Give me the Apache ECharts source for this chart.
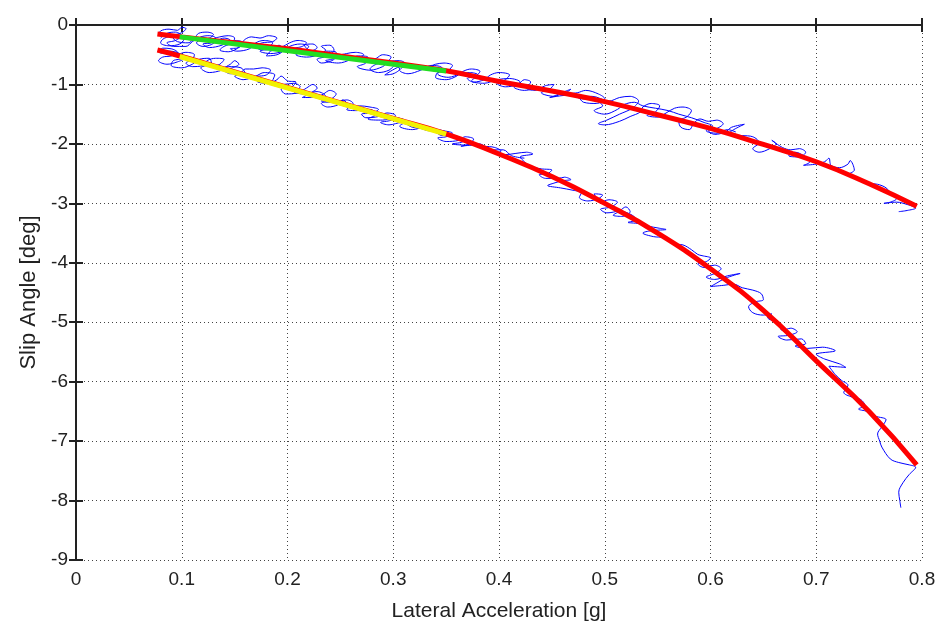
<!DOCTYPE html>
<html><head><meta charset="utf-8">
<script src="https://cdn.jsdelivr.net/npm/echarts@6/dist/echarts.min.js"></script>
<style>html,body{margin:0;padding:0;background:#fff}#c{width:939px;height:631px}</style>
</head><body><div id="c"></div>
<script>
// Tick labels / axes
const xTicks = [0, 0.1, 0.2, 0.3, 0.4, 0.5, 0.6, 0.7, 0.8];
const yTicks = [0, -1, -2, -3, -4, -5, -6, -7, -8, -9];
const xTitle = 'Lateral Acceleration [g]';
const yTitle = 'Slip Angle [deg]';

// Fitted curves (red)
const upperFitX = [0.077, 0.1, 0.15, 0.2, 0.25, 0.3, 0.35, 0.4, 0.45, 0.5, 0.55, 0.6, 0.65, 0.7, 0.75, 0.795];
const upperFitY = [-0.15, -0.20, -0.30, -0.40, -0.52, -0.64, -0.77, -0.95, -1.11, -1.29, -1.51, -1.74, -2.01, -2.30, -2.67, -3.05];
const lowerFitX = [0.077, 0.1, 0.15, 0.2, 0.25, 0.3, 0.35, 0.4, 0.45, 0.5, 0.55, 0.6, 0.65, 0.7, 0.75, 0.795];
const lowerFitY = [-0.42, -0.53, -0.79, -1.05, -1.31, -1.57, -1.83, -2.17, -2.55, -3.0, -3.5, -4.1, -4.8, -5.65, -6.5, -7.4];

// Linear segments (green upper, yellow lower)
const greenX = [0.098, 0.35];
const greenY = [-0.20, -0.775];
const yellowX = [0.098, 0.35];
const yellowY = [-0.53, -1.835];

const upperMeas = [
[0.078,-0.17],[0.080,-0.10],[0.088,-0.07],[0.096,-0.09],[0.100,-0.04],[0.104,-0.06],[0.100,-0.13],[0.090,-0.18],[0.082,-0.24],[0.080,-0.30],[0.088,-0.35],[0.098,-0.32],[0.102,-0.24],[0.098,-0.18],[0.092,-0.22],[0.096,-0.28],[0.106,-0.30],[0.112,-0.22],
[0.116,-0.14],[0.124,-0.12],[0.130,-0.16],[0.126,-0.22],[0.118,-0.24],[0.114,-0.30],[0.120,-0.36],[0.128,-0.33],[0.134,-0.26],[0.140,-0.22],[0.146,-0.26],[0.142,-0.32],[0.134,-0.30],[0.130,-0.24],[0.136,-0.20],[0.144,-0.18],[0.150,-0.22],[0.148,-0.30],[0.140,-0.36],[0.136,-0.42],[0.144,-0.45],[0.152,-0.40],[0.156,-0.32],[0.160,-0.24],[0.166,-0.20],
[0.174,-0.22],[0.182,-0.18],[0.190,-0.22],[0.186,-0.28],[0.176,-0.30],[0.170,-0.36],[0.176,-0.42],[0.186,-0.40],[0.192,-0.34],[0.196,-0.42],[0.190,-0.50],[0.180,-0.52],[0.184,-0.44],[0.194,-0.38],
[0.202,-0.30],[0.210,-0.26],[0.218,-0.30],[0.214,-0.36],[0.206,-0.40],[0.212,-0.46],[0.222,-0.44],[0.228,-0.38],[0.224,-0.32],[0.216,-0.34],[0.220,-0.42],[0.230,-0.48],[0.236,-0.42],[0.232,-0.36],[0.240,-0.34],[0.244,-0.42],[0.238,-0.52],[0.228,-0.58],[0.232,-0.64],[0.242,-0.60],[0.248,-0.52],
[0.256,-0.48],[0.264,-0.46],[0.272,-0.50],[0.268,-0.58],[0.276,-0.62],[0.284,-0.56],[0.290,-0.50],[0.298,-0.54],[0.294,-0.62],[0.284,-0.66],[0.278,-0.74],[0.286,-0.80],[0.296,-0.76],[0.302,-0.68],[0.306,-0.74],[0.300,-0.82],[0.292,-0.84],
[0.306,-0.70],[0.316,-0.68],[0.326,-0.72],[0.334,-0.70],
[0.340,-0.66],[0.348,-0.64],[0.356,-0.68],[0.352,-0.76],[0.342,-0.80],[0.340,-0.88],[0.350,-0.92],[0.360,-0.86],[0.366,-0.78],[0.374,-0.74],[0.382,-0.78],[0.378,-0.86],[0.370,-0.90],[0.376,-0.96],[0.386,-0.92],[0.392,-0.84],[0.400,-0.80],[0.410,-0.84],[0.406,-0.92],[0.398,-0.98],[0.406,-1.04],[0.418,-1.00],[0.424,-0.92],[0.430,-0.96],[0.426,-1.06],
[0.434,-1.10],[0.444,-1.02],[0.452,-1.00],[0.448,-1.08],[0.440,-1.14],[0.452,-1.20],[0.462,-1.12],[0.468,-1.08],[0.462,-1.16],
[0.474,-1.14],[0.482,-1.10],[0.494,-1.16],[0.500,-1.24],[0.492,-1.32],[0.480,-1.30],[0.476,-1.22],[0.488,-1.20],[0.504,-1.28],[0.514,-1.22],[0.524,-1.20],[0.532,-1.28],[0.526,-1.40],[0.514,-1.50],[0.502,-1.60],[0.494,-1.66],[0.500,-1.68],[0.514,-1.62],[0.524,-1.54],[0.534,-1.46],[0.536,-1.38],
[0.544,-1.32],[0.552,-1.36],[0.548,-1.46],[0.540,-1.52],[0.550,-1.55],[0.558,-1.48],[0.566,-1.40],[0.574,-1.38],[0.582,-1.44],[0.578,-1.54],[0.570,-1.62],[0.572,-1.72],[0.580,-1.76],[0.584,-1.66],[0.590,-1.58],
[0.598,-1.62],[0.606,-1.60],[0.612,-1.66],[0.606,-1.74],[0.598,-1.78],[0.604,-1.84],[0.614,-1.80],[0.620,-1.72],[0.632,-1.67],[0.622,-1.76],[0.616,-1.84],
[0.630,-1.86],[0.640,-1.88],[0.646,-1.98],[0.640,-2.08],[0.646,-2.14],[0.656,-2.08],[0.662,-2.00],[0.658,-1.94],
[0.668,-2.06],[0.676,-2.10],[0.684,-2.08],[0.690,-2.14],[0.684,-2.22],[0.674,-2.20],[0.680,-2.14],[0.690,-2.22],[0.694,-2.30],[0.688,-2.36],
[0.700,-2.34],[0.708,-2.30],[0.712,-2.24],[0.714,-2.36],[0.722,-2.40],[0.730,-2.34],[0.732,-2.28],[0.736,-2.44],[0.730,-2.52],[0.738,-2.56],
[0.748,-2.66],[0.758,-2.68],[0.766,-2.74],[0.772,-2.86],[0.776,-2.92],[0.770,-2.98],[0.764,-3.00],[0.776,-2.98],[0.786,-3.02],[0.794,-3.08],[0.786,-3.12],[0.778,-3.14]];

const upperMeas2 = [
[0.080,-0.22],[0.086,-0.14],[0.094,-0.12],[0.100,-0.18],[0.094,-0.26],[0.086,-0.30],[0.092,-0.36],[0.104,-0.36],[0.110,-0.28],[0.118,-0.20],[0.126,-0.18],[0.132,-0.22],[0.128,-0.30],[0.120,-0.32],[0.126,-0.38],[0.138,-0.34],[0.144,-0.28],[0.152,-0.26],[0.158,-0.30],[0.154,-0.38],[0.146,-0.40],[0.152,-0.44],[0.164,-0.40],[0.170,-0.30],[0.178,-0.26],[0.186,-0.30],[0.182,-0.38],[0.174,-0.44],[0.184,-0.48],[0.196,-0.44],[0.202,-0.36],[0.212,-0.32],[0.220,-0.36],[0.216,-0.44],[0.208,-0.50],[0.218,-0.54],[0.230,-0.50],[0.236,-0.44],[0.246,-0.46],[0.244,-0.56],[0.236,-0.60],[0.248,-0.64],[0.260,-0.58],[0.266,-0.52],[0.276,-0.54],[0.274,-0.64],[0.266,-0.70],[0.278,-0.76],[0.290,-0.70],[0.296,-0.62],[0.306,-0.60],[0.312,-0.66],[0.306,-0.76],[0.314,-0.82],[0.326,-0.76],[0.336,-0.68],[0.346,-0.72],[0.342,-0.82],[0.352,-0.88],[0.364,-0.82],[0.372,-0.80],[0.380,-0.84],[0.374,-0.94],[0.386,-0.98],[0.398,-0.92],[0.410,-0.90],[0.420,-0.96],[0.414,-1.04],[0.424,-1.10],[0.438,-1.06],[0.446,-1.10],[0.456,-1.16],[0.448,-1.22],
[0.466,-1.18],[0.478,-1.24],[0.490,-1.26],[0.498,-1.36],[0.490,-1.44],[0.500,-1.50],[0.512,-1.42],[0.518,-1.34],[0.528,-1.30],[0.536,-1.36],[0.548,-1.40],[0.560,-1.44],[0.570,-1.50],[0.582,-1.56],[0.594,-1.64],[0.602,-1.70],[0.596,-1.78],[0.606,-1.82],[0.616,-1.76],[0.624,-1.80]];

const lowerMeas = [
[0.078,-0.44],[0.082,-0.39],[0.090,-0.40],[0.096,-0.46],[0.090,-0.52],[0.082,-0.54],[0.078,-0.60],[0.086,-0.66],[0.096,-0.62],[0.102,-0.56],[0.098,-0.50],[0.104,-0.46],[0.112,-0.50],
[0.110,-0.58],[0.104,-0.64],[0.110,-0.70],[0.120,-0.68],[0.124,-0.60],[0.132,-0.56],[0.140,-0.58],[0.136,-0.66],[0.130,-0.70],[0.138,-0.72],[0.146,-0.66],[0.150,-0.60],[0.154,-0.66],[0.148,-0.72],[0.140,-0.76],[0.146,-0.82],[0.156,-0.80],[0.160,-0.74],
[0.168,-0.74],[0.176,-0.72],[0.184,-0.76],[0.180,-0.84],[0.170,-0.88],[0.172,-0.96],[0.182,-0.98],[0.190,-0.92],[0.194,-0.86],
[0.200,-0.94],[0.208,-0.96],[0.204,-1.04],[0.194,-1.08],[0.198,-1.16],[0.210,-1.14],[0.218,-1.06],[0.224,-1.00],[0.228,-1.06],[0.222,-1.14],[0.214,-1.22],
[0.226,-1.22],[0.234,-1.16],[0.240,-1.10],[0.246,-1.16],[0.240,-1.26],[0.232,-1.32],[0.238,-1.38],[0.248,-1.34],[0.252,-1.26],
[0.262,-1.38],[0.268,-1.36],[0.278,-1.38],[0.286,-1.42],[0.280,-1.48],[0.270,-1.50],[0.274,-1.56],[0.286,-1.54],[0.294,-1.48],[0.302,-1.52],[0.298,-1.60],[0.288,-1.64],[0.296,-1.68],[0.308,-1.64],
[0.318,-1.72],[0.326,-1.74],[0.334,-1.78],
[0.340,-1.76],[0.348,-1.78],[0.356,-1.82],[0.350,-1.88],[0.342,-1.90],[0.350,-1.96],[0.362,-1.94],[0.368,-1.88],[0.376,-1.92],[0.372,-2.00],[0.364,-2.04],
[0.376,-2.02],[0.386,-2.04],[0.396,-2.06],[0.402,-2.12],[0.396,-2.16],[0.406,-2.18],[0.416,-2.16],[0.426,-2.14],[0.432,-2.17],[0.420,-2.22],
[0.424,-2.30],[0.430,-2.38],[0.440,-2.42],[0.450,-2.44],[0.446,-2.50],[0.438,-2.52],[0.444,-2.58],[0.456,-2.58],[0.462,-2.56],[0.468,-2.60],[0.460,-2.62],[0.452,-2.66],[0.446,-2.70],
[0.458,-2.74],[0.470,-2.78],[0.478,-2.82],[0.476,-2.90],[0.484,-2.96],[0.494,-2.92],[0.498,-2.86],[0.490,-2.84],
[0.496,-2.98],[0.504,-2.94],[0.512,-2.98],[0.506,-3.06],[0.496,-3.10],[0.502,-3.16],[0.514,-3.12],[0.520,-3.06],[0.524,-3.14],[0.516,-3.22],[0.508,-3.20],[0.516,-3.14],[0.526,-3.20],[0.530,-3.28],[0.522,-3.32],
[0.532,-3.34],[0.540,-3.38],[0.552,-3.42],[0.558,-3.44],[0.544,-3.46],[0.536,-3.50],[0.546,-3.56],[0.556,-3.58],
[0.564,-3.68],[0.574,-3.70],[0.582,-3.78],[0.588,-3.86],
[0.592,-3.88],[0.600,-3.92],[0.596,-3.98],[0.588,-4.02],[0.594,-4.08],[0.604,-4.04],[0.610,-4.10],[0.604,-4.18],[0.596,-4.24],[0.604,-4.28],[0.616,-4.22],[0.628,-4.18],[0.614,-4.26],[0.606,-4.34],[0.600,-4.40],[0.612,-4.38],[0.622,-4.36],
[0.630,-4.42],[0.640,-4.46],[0.648,-4.52],[0.650,-4.62],[0.642,-4.66],[0.636,-4.74],[0.640,-4.84],[0.650,-4.88],[0.658,-4.86],[0.654,-4.92],
[0.664,-5.02],[0.668,-5.14],[0.676,-5.10],[0.682,-5.16],[0.674,-5.22],[0.664,-5.24],[0.672,-5.30],[0.686,-5.28],[0.690,-5.36],[0.680,-5.40],[0.692,-5.44],[0.706,-5.42],[0.718,-5.48],[0.700,-5.54],[0.708,-5.62],[0.722,-5.70],[0.728,-5.76],[0.712,-5.74],
[0.718,-5.88],[0.724,-5.98],[0.730,-6.06],[0.726,-6.18],[0.734,-6.26],[0.742,-6.30],[0.746,-6.40],[0.740,-6.46],[0.748,-6.50],
[0.756,-6.58],[0.766,-6.64],[0.762,-6.76],[0.758,-6.88],[0.760,-7.00],[0.762,-7.10],[0.770,-7.30],[0.778,-7.36],[0.788,-7.40],[0.794,-7.44],[0.788,-7.56],[0.782,-7.70],[0.778,-7.86],[0.779,-8.00],[0.780,-8.12]];

const lowerMeas2 = [
[0.080,-0.48],[0.088,-0.44],[0.098,-0.48],[0.100,-0.56],[0.092,-0.60],[0.090,-0.68],[0.100,-0.72],[0.110,-0.66],[0.116,-0.58],[0.126,-0.56],[0.128,-0.64],[0.118,-0.72],[0.126,-0.80],[0.138,-0.76],[0.144,-0.70],[0.156,-0.72],[0.160,-0.82],[0.150,-0.86],[0.158,-0.92],[0.170,-0.86],[0.178,-0.80],[0.188,-0.84],[0.186,-0.94],[0.196,-1.00],[0.206,-0.98],[0.212,-1.04],[0.206,-1.12],[0.216,-1.16],[0.228,-1.12],[0.236,-1.20],[0.232,-1.28],[0.244,-1.30],[0.256,-1.26],[0.262,-1.32],[0.256,-1.42],[0.266,-1.44],[0.278,-1.42],[0.284,-1.50],[0.276,-1.58],[0.290,-1.60],[0.302,-1.56],[0.312,-1.62],[0.306,-1.70],[0.318,-1.76],[0.330,-1.72],[0.340,-1.80],[0.346,-1.86],[0.358,-1.86],[0.366,-1.96],[0.356,-2.00],[0.370,-2.02],[0.382,-2.00],[0.392,-2.10],[0.404,-2.10],[0.412,-2.20],[0.424,-2.24]];

const zip = (xs, ys) => xs.map((x, i) => [x, ys[i]]);
const FONT = 'Liberation Sans, Arial, sans-serif';

const chart = echarts.init(document.getElementById('c'), null, {renderer: 'canvas'});
const gridLine = {show: true, lineStyle: {color: '#444', width: 1, type: [1, 3]}};
const axisLine = {show: true, lineStyle: {color: '#222', width: 2}};
const tick = {show: true, inside: true, length: 7, lineStyle: {color: '#222', width: 2}};
const blue = {color: '#0000ff', width: 1};

chart.setOption({
  animation: false,
  backgroundColor: '#fff',
  grid: {left: 76, right: 17, top: 25, bottom: 71},
  xAxis: [{
    type: 'value', min: xTicks[0], max: xTicks[xTicks.length - 1], interval: 0.1,
    position: 'bottom',
    axisLine, axisTick: tick, splitLine: gridLine,
    axisLabel: {fontFamily: FONT, fontSize: 19, color: '#222', margin: 10,
      formatter: v => String(+v.toFixed(1))},
    name: xTitle, nameLocation: 'middle', nameGap: 41,
    nameTextStyle: {fontFamily: FONT, fontSize: 21, color: '#222'}
  }, {
    type: 'value', min: xTicks[0], max: xTicks[xTicks.length - 1], interval: 0.1,
    position: 'top', axisLine, axisTick: tick, splitLine: {show: false},
    axisLabel: {show: false}
  }],
  yAxis: [{
    type: 'value', min: yTicks[yTicks.length - 1], max: yTicks[0], interval: 1,
    position: 'left',
    axisLine, axisTick: tick, splitLine: gridLine,
    axisLabel: {fontFamily: FONT, fontSize: 19, color: '#222', margin: 8},
    name: yTitle, nameLocation: 'middle', nameGap: 33,
    nameTextStyle: {fontFamily: FONT, fontSize: 22, color: '#222'}
  }, {
    type: 'value', min: yTicks[yTicks.length - 1], max: yTicks[0], interval: 1,
    position: 'right', axisLine, axisTick: tick, splitLine: {show: false},
    axisLabel: {show: false}
  }],
  series: [
    {type: 'line', data: upperMeas, smooth: 0.35, showSymbol: false, z: 2, lineStyle: blue},
    {type: 'line', data: upperMeas2, smooth: 0.35, showSymbol: false, z: 2, lineStyle: blue},
    {type: 'line', data: lowerMeas, smooth: 0.35, showSymbol: false, z: 2, lineStyle: blue},
    {type: 'line', data: lowerMeas2, smooth: 0.35, showSymbol: false, z: 2, lineStyle: blue},
    {type: 'line', data: zip(upperFitX, upperFitY), smooth: true, showSymbol: false, z: 3,
      lineStyle: {color: '#ff0000', width: 5}},
    {type: 'line', data: zip(lowerFitX, lowerFitY), smooth: true, showSymbol: false, z: 3,
      lineStyle: {color: '#ff0000', width: 5}},
    {type: 'line', data: zip(greenX, greenY), showSymbol: false, z: 4,
      lineStyle: {color: '#22dd22', width: 5}},
    {type: 'line', data: zip(yellowX, yellowY), showSymbol: false, z: 4,
      lineStyle: {color: '#f2f200', width: 5}}
  ]
});
</script></body></html>
